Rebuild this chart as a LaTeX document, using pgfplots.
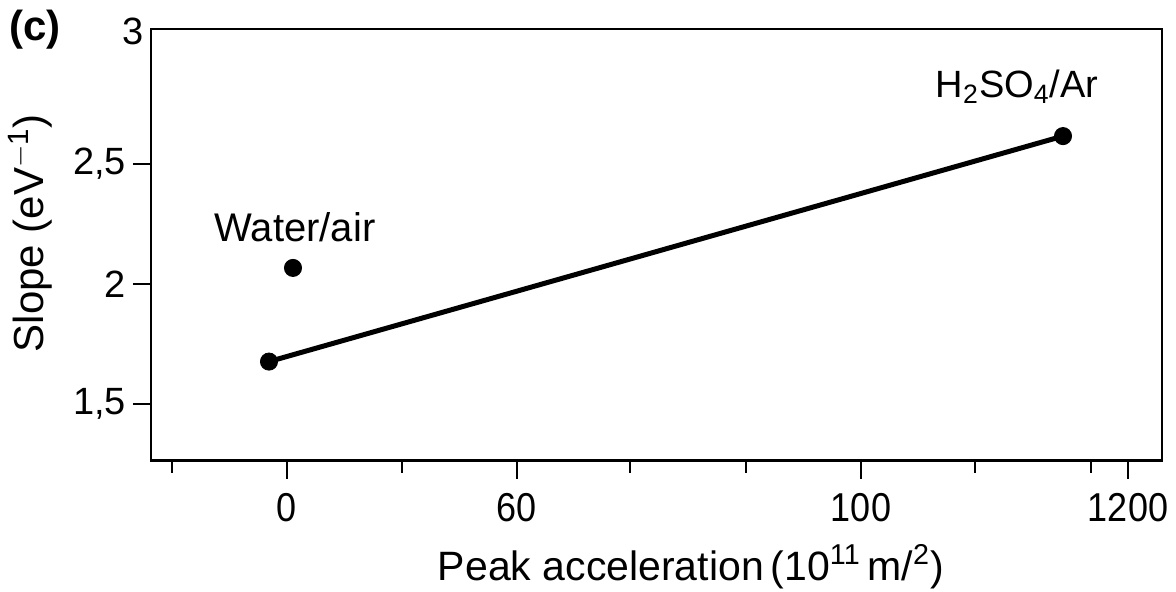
\documentclass[border=0pt]{standalone}
\usepackage{fontspec}
\setmainfont{Liberation Sans}
\usepackage{pgfplots}
\pgfplotsset{compat=1.18}
\begin{document}
\begin{tikzpicture}
\begin{axis}[
  at={(0,0)}, anchor=south west,
  scale only axis, width=505.5pt, height=215.75pt,
  xmin=-136, xmax=875, ymin=1.264, ymax=3.061,
  clip=false,
  axis line style={line width=1.4pt},
  xtick={0,230,574,841}, xticklabels={0,60,100,1200},
  minor xtick={-115,115,343,459,688,804},
  ytick={1.5,2,2.5}, yticklabels={{1,5},2,{2,5}},
  extra y ticks={3.049}, extra y tick labels={3},
  extra y tick style={major tick length=0pt},
  tick align=outside, xtick pos=bottom, ytick pos=left,
  major tick length=9pt, minor tick length=6pt,
  tick style={line width=1.2pt, black},
  xticklabel style={font=\fontsize{18}{20}\selectfont, yscale=1.12, yshift=-3pt},
  yticklabel style={font=\fontsize{19}{21}\selectfont},
  /pgf/number format/assume math mode=true,
  xlabel={Peak acceleration\,(10\textsuperscript{11}\,m/\textsuperscript{2})},
  xlabel style={font=\fontsize{20.5}{22}\selectfont, at={(rel axis cs:0.534,-0.277)}, anchor=base},
  ylabel={Slope (eV\textsuperscript{$-$1})},
  ylabel style={font=\fontsize{21}{23}\selectfont, at={(rel axis cs:-0.1197,0.527)}, anchor=center},
]
\addplot[line width=2.5pt, black, mark=*, mark size=4.3pt, mark options={line width=0.4pt}] coordinates {(-18,1.676) (776,2.615)};
\addplot[only marks, black, mark=*, mark size=4.3pt, mark options={line width=0.4pt}] coordinates {(6,2.066)};
\node[anchor=base, font=\fontsize{20}{22}\selectfont] at (axis cs:8,2.175) {Water/air};
\node[anchor=base, font=\fontsize{19}{21}\selectfont] at (axis cs:730,2.777) {H\textsubscript{2}SO\textsubscript{4}/Ar};
\node[font=\bfseries\fontsize{21}{23}\selectfont] at (rel axis cs:-0.1147,0.998) {(c)};
\end{axis}
\pgfresetboundingbox
\path (-75.5pt,-65.25pt) rectangle (512.5pt,230.25pt);
\end{tikzpicture}
\end{document}
